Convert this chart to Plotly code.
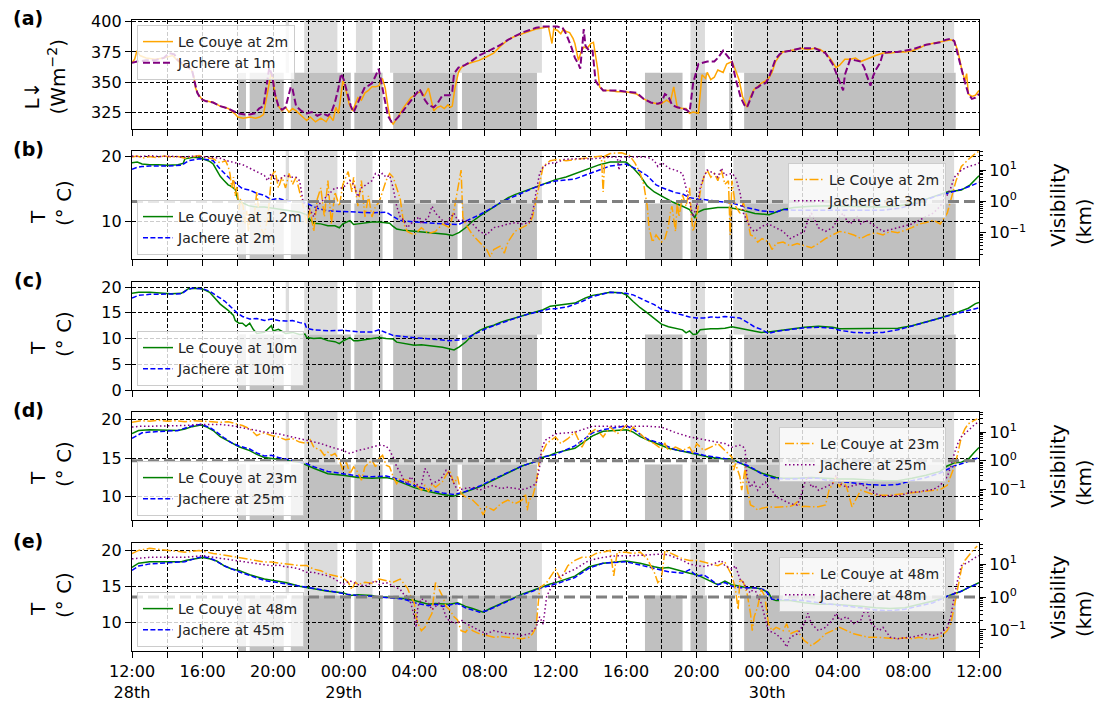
import plotly.graph_objects as go

# ---------------------------------------------------------------------------
# Time axis: hours since 12:00 on the 28th (48 h window)
# ---------------------------------------------------------------------------
LABEL_HOURS = list(range(0, 49, 4))
LABEL_TEXT = ["12:00<br>28th", "16:00", "20:00", "00:00<br>29th", "04:00", "08:00",
              "12:00", "16:00", "20:00", "00:00<br>30th", "04:00", "08:00", "12:00"]
MINOR_HOURS = list(range(2, 48, 4))

# fog flags (hour intervals): upper band and lower band
FOG_UPPER = [(8.71, 8.9), (9.76, 11.64), (12.69, 13.63), (14.62, 23.23),
             (31.65, 32.47), (34.08, 46.59)]
FOG_LOWER = [(6.02, 6.46), (6.67, 8.6), (9.0, 12.4), (12.6, 14.2), (14.8, 18.45),
             (18.7, 22.95), (29.07, 31.2), (31.65, 32.58), (33.84, 34.04),
             (34.69, 46.68)]

FOG_VIS_KM = 1.0

# ---------------------------------------------------------------------------
# (a) downward longwave radiation, W m-2
# ---------------------------------------------------------------------------
LW_COUYE_2M = [(0.0,366),(0.15,369),(0.28,376),(0.45,372),(0.8,370),(1.3,369),(1.8,370),(2.3,372),(2.5,369),(2.8,365),(3.1,362),(3.35,361),(3.5,355),(3.6,345),(3.75,340),(4.0,335),(4.3,334),(4.6,333),(5.0,330),(5.45,328),(5.8,324),(6.0,321),(6.3,320),(6.7,321),(7.0,320),(7.24,321),(7.45,323),(7.6,335),(7.75,350),(7.89,358),(8.0,352),(8.1,340),(8.3,330),(8.5,326),(8.7,329),(8.9,325),(9.1,328),(9.3,326),(9.6,322),(9.9,318),(10.1,321),(10.4,317),(10.7,320),(11.0,317),(11.2,322),(11.4,318),(11.55,329),(11.7,324),(11.85,340),(11.95,351),(12.1,345),(12.3,332),(12.5,326),(12.65,331),(12.8,337),(13.0,335),(13.2,341),(13.4,343),(13.6,346),(13.8,346),(14.0,347),(14.19,353),(14.35,345),(14.5,330),(14.65,318),(14.8,315),(15.0,319),(15.2,324),(15.4,329),(15.6,333),(15.8,337),(16.0,339),(16.2,341),(16.4,342),(16.55,338),(16.8,345),(16.95,336),(17.1,326),(17.3,329),(17.5,330),(17.7,328),(17.9,331),(18.05,329),(18.15,330),(18.3,345),(18.5,358),(18.66,362),(18.86,364),(19.2,366),(19.67,368),(20.1,371),(20.5,374),(20.9,380),(21.3,385),(21.7,388),(22.1,390),(22.5,392),(22.9,394),(23.3,395),(23.6,396),(23.8,382),(23.9,394),(24.1,393),(24.3,390),(24.45,394),(24.6,392),(24.8,391),(25.0,386),(25.1,382),(25.3,368),(25.45,375),(25.6,379),(25.8,378),(26.0,382),(26.15,383),(26.3,370),(26.4,360),(26.5,346),(26.7,343),(27.1,343),(27.5,342),(28.0,342),(28.6,340),(29.0,336),(29.4,333),(29.8,332),(30.0,332),(30.3,335),(30.5,333),(30.7,346),(30.9,329),(31.2,328),(31.4,328),(31.6,324),(31.8,325),(32.1,324),(32.2,340),(32.3,356),(32.5,353),(32.6,358),(32.8,352),(33.0,354),(33.2,360),(33.5,358),(33.7,365),(34.0,367),(34.2,360),(34.4,352),(34.6,338),(34.85,329),(35.05,338),(35.26,344),(35.45,346),(35.66,349),(35.9,351),(36.07,353),(36.27,358),(36.47,367),(36.7,372),(36.88,375),(37.29,376),(37.9,378),(38.3,377),(38.7,378),(39.0,377),(39.3,374),(39.6,369),(39.9,362),(40.1,364),(40.4,369),(40.7,369),(41.0,370),(41.3,367),(41.6,369),(41.9,371),(42.15,372),(42.56,374),(43.0,374),(43.37,375),(43.8,375),(44.2,376),(44.6,378),(45.0,381),(45.4,382),(45.8,383),(46.1,384),(46.4,385),(46.6,384),(46.7,380),(46.8,376),(47.0,362),(47.2,351),(47.3,357),(47.4,340),(47.6,338),(47.8,339),(48.0,343)]
LW_JACHERE_1M = [(0.0,366),(0.3,367),(0.8,368),(1.3,368),(1.8,370),(2.1,374),(2.4,373),(2.6,368),(2.9,365),(3.2,362),(3.4,360),(3.55,350),(3.7,341),(3.9,336),(4.2,334),(4.6,333),(5.0,330),(5.45,328),(5.8,325),(6.0,324),(6.4,323),(6.67,323),(6.97,324),(7.2,328),(7.45,330),(7.6,345),(7.78,362),(7.95,355),(8.1,340),(8.3,330),(8.5,327),(8.7,329),(8.85,337),(9.0,346),(9.1,344),(9.3,330),(9.6,326),(9.9,324),(10.2,325),(10.5,322),(10.8,324),(11.1,322),(11.3,325),(11.5,333),(11.7,345),(11.85,357),(12.0,352),(12.2,340),(12.4,330),(12.56,325),(12.8,333),(13.0,340),(13.2,346),(13.4,347),(13.6,349),(13.8,355),(13.98,361),(14.1,352),(14.3,338),(14.5,322),(14.7,317),(14.9,318),(15.1,321),(15.4,327),(15.7,333),(16.0,339),(16.3,344),(16.45,340),(16.6,335),(16.8,331),(17.1,329),(17.3,332),(17.6,339),(17.8,339),(18.0,339),(18.15,342),(18.25,357),(18.5,362),(18.86,364),(19.3,368),(19.67,372),(20.1,375),(20.5,378),(20.9,381),(21.3,385),(21.7,388),(22.1,391),(22.5,393),(22.9,395),(23.3,396),(23.7,396),(24.1,396),(24.4,395),(24.6,390),(24.9,379),(25.1,370),(25.3,365),(25.4,361),(25.55,385),(25.6,394),(25.7,380),(25.9,376),(26.1,376),(26.2,362),(26.27,351),(26.4,348),(26.5,346),(26.7,343),(27.1,343),(27.5,343),(28.0,342),(28.6,341),(29.0,336),(29.4,333),(29.8,332),(30.0,333),(30.2,340),(30.4,338),(30.6,331),(30.9,329),(31.2,328),(31.4,327),(31.6,325),(31.8,349),(32.1,365),(32.3,366),(32.6,367),(33.0,367),(33.2,370),(33.5,376),(33.7,372),(34.0,367),(34.2,353),(34.5,337),(34.7,331),(34.85,329),(35.05,336),(35.26,344),(35.5,346),(35.66,348),(35.9,349),(36.07,353),(36.27,361),(36.47,369),(36.7,373),(36.88,375),(37.29,376),(37.9,378),(38.3,378),(38.7,378),(39.0,376),(39.3,374),(39.7,365),(39.95,356),(40.1,350),(40.3,343),(40.4,356),(40.7,369),(41.0,368),(41.3,367),(41.5,362),(41.6,357),(41.85,347),(42.0,355),(42.15,360),(42.4,366),(42.56,374),(43.0,375),(43.37,375),(43.8,376),(44.2,377),(44.6,379),(45.0,381),(45.4,382),(45.8,383),(46.1,385),(46.4,386),(46.6,384),(46.7,378),(46.8,373),(47.0,360),(47.2,350),(47.4,340),(47.6,336),(47.8,337),(48.0,340)]

# ---------------------------------------------------------------------------
# (b) near-surface temperature (deg C) and visibility (km)
# ---------------------------------------------------------------------------
T_COUYE_1M2 = [(0.0,19.0),(0.3,19.1),(0.57,18.8),(1.0,18.7),(1.5,18.7),(2.0,18.6),(2.6,18.7),(2.9,18.9),(3.0,19.6),(3.4,19.8),(3.8,19.8),(4.0,19.6),(4.4,19.2),(4.6,18.8),(4.8,17.8),(5.0,16.9),(5.2,16.3),(5.45,15.6),(5.6,15.4),(5.85,14.9),(6.0,13.3),(6.1,13.0),(6.3,12.8),(6.6,12.4),(7.0,12.2),(7.5,12.2),(8.0,12.0),(8.5,11.8),(9.0,11.6),(9.5,11.4),(9.9,11.0),(10.1,10.2),(10.3,9.7),(10.7,9.6),(11.1,9.3),(11.5,9.3),(11.75,9.0),(11.95,9.6),(12.35,10.1),(12.56,9.5),(12.8,9.6),(13.2,9.8),(13.6,9.9),(14.0,9.9),(14.4,9.8),(14.6,9.7),(14.8,9.2),(15.0,8.8),(15.4,8.6),(15.8,8.5),(16.4,8.4),(16.8,8.3),(17.2,8.2),(17.8,8.0),(18.15,7.8),(18.55,8.3),(18.9,9.0),(19.3,10.0),(19.7,10.8),(20.1,11.5),(20.5,12.2),(20.9,13.0),(21.3,13.6),(21.7,14.1),(22.1,14.5),(22.5,14.9),(22.9,15.4),(23.3,15.8),(23.7,16.1),(24.0,16.4),(24.6,16.8),(25.1,17.3),(25.6,17.8),(26.1,18.3),(26.5,18.7),(27.1,19.1),(27.5,19.1),(28.0,19.1),(28.4,18.2),(28.8,17.0),(29.2,15.4),(29.6,14.5),(30.2,13.6),(30.6,13.0),(31.2,12.3),(31.6,11.8),(31.9,10.5),(32.0,11.3),(32.4,11.8),(33.2,12.1),(33.8,12.1),(34.45,11.8),(35.3,11.2),(36.1,11.0),(36.9,11.8),(37.5,12.1),(38.5,12.3),(39.5,12.4),(40.5,12.3),(41.5,12.2),(42.5,12.2),(43.5,12.4),(44.3,12.8),(45.0,13.4),(45.6,14.0),(46.2,14.5),(47.0,14.8),(47.5,15.6),(48.0,17.0)]
T_JACHERE_2M = [(0.0,18.0),(0.3,18.3),(0.57,18.4),(1.0,18.5),(2.0,18.5),(2.8,18.6),(3.2,19.3),(3.8,19.6),(4.2,19.5),(4.6,19.3),(5.0,18.0),(5.45,16.8),(5.85,15.9),(6.26,15.0),(6.67,14.8),(7.07,14.3),(7.5,14.0),(7.9,13.3),(8.3,13.5),(8.7,13.2),(9.3,13.0),(9.7,13.0),(10.1,12.5),(10.5,12.0),(11.1,11.6),(11.95,11.5),(12.8,11.5),(13.6,11.3),(14.4,11.4),(14.8,10.8),(15.2,10.1),(16.0,9.9),(16.8,9.7),(17.6,9.6),(18.5,9.5),(18.9,10.0),(19.7,11.0),(20.5,12.2),(20.9,12.9),(21.3,13.4),(21.7,13.9),(22.1,14.4),(22.5,14.8),(23.1,15.5),(23.7,15.9),(24.0,16.2),(25.1,16.5),(26.1,17.5),(27.1,18.5),(28.0,18.8),(28.6,18.0),(29.2,17.0),(29.7,15.6),(30.0,15.2),(30.4,14.8),(30.8,14.4),(31.2,14.2),(31.6,13.6),(32.2,13.4),(33.2,13.1),(34.0,12.8),(34.85,12.1),(35.66,11.6),(36.5,11.4),(36.9,11.8),(37.5,11.7),(38.5,11.7),(39.5,11.6),(40.5,11.6),(41.5,11.6),(42.5,11.7),(43.5,12.0),(44.3,12.6),(45.0,13.3),(45.6,13.9),(46.2,14.3),(47.0,14.9),(47.5,15.4),(48.0,16.0)]
VIS_COUYE_2M = [(0,26),(0.3,28),(0.6,24),(1.0,27),(1.4,25),(1.8,28),(2.2,26),(2.6,27),(3.0,24),(3.4,27),(3.8,29),(4.2,25),(4.6,23),(5.0,17),(5.3,20),(5.45,13),(5.55,7.8),(5.65,2.7),(5.75,6),(5.85,1.5),(5.95,3),(6.06,0.54),(6.15,1.2),(6.3,0.7),(6.4,0.2),(6.5,0.5),(6.6,0.11),(6.7,0.3),(6.9,0.25),(7.07,2.0),(7.28,0.15),(7.5,0.085),(7.7,0.32),(7.9,5.9),(8.1,10),(8.3,2.7),(8.5,5.9),(8.7,2.7),(8.9,7.8),(9.1,3.5),(9.3,5.9),(9.5,2.0),(9.7,0.7),(9.9,0.19),(10.1,0.54),(10.3,0.11),(10.5,1.2),(10.7,2.7),(10.9,0.32),(11.1,4.6),(11.3,0.19),(11.5,2.0),(11.75,0.7),(11.95,3.5),(12.25,9),(12.46,2.0),(12.56,5.9),(12.8,0.7),(13.0,4.6),(13.2,0.32),(13.4,1.5),(13.6,0.32),(13.8,0.7),(14.0,0.93),(14.4,4.6),(14.6,7.8),(14.8,5.9),(15.0,2.7),(15.2,1.2),(15.4,0.19),(15.6,0.11),(16.0,0.085),(16.4,0.145),(16.8,0.095),(17.2,0.11),(17.6,0.19),(18.0,0.145),(18.25,0.54),(18.45,2.7),(18.65,10),(18.75,0.32),(18.9,0.19),(19.3,0.085),(19.7,0.05),(20.1,0.029),(20.3,0.017),(20.5,0.029),(20.9,0.038),(21.1,0.022),(21.3,0.05),(21.7,0.11),(22.1,0.145),(22.5,0.19),(22.7,0.32),(22.9,1.2),(23.1,4.6),(23.3,13),(23.7,20),(24.1,22),(24.6,20),(25.1,22),(25.6,24),(26.1,26),(26.6,28),(26.7,2.0),(26.8,28),(27.1,34),(27.75,36),(28.2,29),(28.5,17),(28.8,7.8),(29.0,3.5),(29.2,0.7),(29.3,0.145),(29.5,0.05),(29.7,0.085),(30.0,0.05),(30.2,0.065),(30.4,0.16),(30.5,0.42),(30.6,0.7),(30.7,0.25),(30.8,0.11),(30.9,0.93),(31.0,0.32),(31.2,1.6),(31.4,0.7),(31.6,2.7),(31.7,0.32),(31.8,0.11),(32.0,0.32),(32.2,2.0),(32.4,5.9),(32.6,10),(32.8,5.9),(33.0,7.8),(33.2,4.6),(33.4,10),(33.6,3.5),(33.8,4.6),(33.9,0.085),(34.0,4.6),(34.2,0.7),(34.45,0.42),(34.65,0.93),(34.85,0.32),(35.05,0.085),(35.26,0.075),(35.46,0.05),(35.7,0.065),(36.07,0.05),(36.27,0.029),(36.5,0.045),(36.9,0.05),(37.3,0.038),(37.7,0.045),(38.1,0.038),(38.5,0.033),(38.9,0.045),(39.3,0.065),(39.7,0.085),(40.1,0.11),(40.5,0.1),(40.9,0.085),(41.3,0.065),(41.7,0.085),(42.15,0.1),(42.56,0.085),(42.97,0.11),(43.4,0.1),(43.8,0.12),(44.2,0.145),(44.6,0.19),(45.0,0.21),(45.4,0.25),(45.8,0.19),(46.2,0.42),(46.5,1.6),(46.7,4.6),(47.0,13),(47.4,22),(47.8,34),(48.0,40)]
VIS_JACHERE_3M = [(0,28),(0.5,27),(1.0,29),(1.5,27),(2.0,28),(2.5,27),(3.0,26),(3.5,28),(4.0,27),(4.5,26),(5.0,24),(5.45,19.5),(5.8,17),(6.26,15),(6.67,11.5),(7.07,9),(7.5,6.8),(7.68,4.6),(7.89,7.8),(8.1,5.2),(8.3,4.6),(8.5,5.9),(8.7,6.8),(9.1,5.9),(9.3,5.9),(9.5,4.6),(9.7,0.93),(9.9,0.7),(10.1,0.54),(10.3,0.32),(10.5,0.7),(10.7,0.93),(11.1,1.6),(11.5,2.7),(11.95,2.7),(12.35,4.6),(12.56,3.5),(12.8,1.4),(13.0,2.7),(13.4,4.0),(13.6,4.6),(13.8,7.8),(14.0,6.8),(14.2,7.8),(14.4,5.9),(14.6,6.8),(14.8,2.7),(15.0,0.7),(15.2,0.32),(15.4,0.25),(15.6,0.145),(15.8,0.19),(16.0,0.25),(16.3,0.32),(16.4,0.19),(16.6,0.25),(16.8,0.32),(17.0,0.7),(17.2,0.42),(17.4,0.32),(17.6,0.25),(17.8,0.19),(18.0,0.28),(18.25,0.42),(18.45,0.25),(18.9,0.25),(19.3,0.19),(19.7,0.11),(20.1,0.085),(20.3,0.11),(20.5,0.145),(20.9,0.16),(21.3,0.19),(21.7,0.21),(22.1,0.19),(22.5,0.21),(22.7,0.42),(22.9,2.0),(23.1,7.8),(23.3,13),(23.7,17),(24.0,17),(24.5,22),(25.1,23),(26.1,23),(27.1,26),(27.5,26),(27.6,10),(27.7,26),(28.0,26),(28.8,26),(29.2,26),(29.6,20),(29.8,13),(30.0,17),(30.2,15),(30.4,11.5),(30.8,10),(31.2,7.8),(31.4,2.7),(31.6,1.1),(31.7,0.54),(31.8,0.32),(32.0,0.7),(32.2,2.7),(32.4,5.9),(32.6,10),(33.0,7.8),(33.2,5.9),(33.4,11.5),(33.6,6.8),(34.0,7.8),(34.2,5.9),(34.45,2.0),(34.65,0.42),(34.85,0.25),(35.05,0.145),(35.26,0.11),(35.46,0.125),(35.7,0.16),(36.07,0.19),(36.47,0.145),(36.9,0.11),(37.3,0.065),(37.7,0.085),(38.1,0.11),(38.3,0.25),(38.5,0.42),(38.7,0.25),(38.9,0.145),(39.3,0.11),(39.7,0.145),(40.1,0.32),(40.3,0.42),(40.5,0.25),(40.7,0.19),(41.1,0.32),(41.3,0.19),(41.6,0.25),(41.9,0.19),(42.25,0.145),(42.56,0.11),(42.97,0.125),(43.4,0.145),(43.8,0.16),(44.2,0.19),(44.6,0.25),(45.0,0.32),(45.4,0.42),(45.8,0.7),(46.2,1.6),(46.4,2.7),(46.6,5.9),(47.0,10),(47.4,13),(47.8,15),(48.0,17)]

# ---------------------------------------------------------------------------
# (c) temperature at 10 m
# ---------------------------------------------------------------------------
T_COUYE_10M = [(0.0,18.8),(0.37,19.0),(1.0,19.0),(1.6,18.8),(2.2,18.7),(2.8,18.8),(3.0,19.3),(3.2,19.7),(3.8,19.8),(4.1,19.5),(4.4,19.0),(4.6,18.2),(5.0,16.7),(5.45,15.5),(5.75,14.5),(5.85,13.5),(6.06,13.0),(6.26,13.0),(6.46,12.4),(6.67,13.0),(6.87,11.8),(7.07,11.0),(7.5,11.2),(7.9,12.5),(8.0,11.5),(8.3,11.8),(8.7,11.0),(9.1,11.2),(9.5,10.8),(9.8,10.9),(9.9,10.2),(10.3,10.0),(10.7,10.1),(11.1,9.6),(11.5,9.4),(11.75,9.0),(11.95,9.5),(12.35,10.2),(12.56,9.6),(12.8,9.6),(13.2,9.8),(13.6,10.0),(14.0,10.2),(14.4,10.0),(14.8,9.9),(15.0,9.3),(15.6,8.9),(16.0,8.7),(16.4,8.8),(16.8,8.6),(17.6,8.3),(18.25,7.8),(18.55,8.4),(18.9,9.3),(19.3,10.7),(19.7,11.6),(20.1,12.2),(20.5,12.6),(20.9,13.2),(21.3,13.6),(21.7,14.0),(22.1,14.5),(22.5,14.9),(22.9,15.2),(23.3,15.6),(23.7,16.3),(24.3,16.5),(25.1,16.9),(25.7,17.9),(26.1,18.4),(26.5,18.6),(27.1,19.0),(27.75,18.9),(28.05,18.4),(28.4,17.2),(28.8,16.0),(29.2,15.0),(29.6,13.9),(30.0,12.8),(30.4,12.3),(30.8,12.0),(31.2,11.7),(31.4,11.1),(31.6,11.5),(31.8,10.8),(32.0,10.9),(32.2,11.7),(32.4,11.8),(32.8,11.9),(33.2,11.9),(33.6,12.0),(34.0,12.3),(34.45,12.0),(34.85,11.6),(35.26,11.4),(35.66,11.2),(36.07,11.3),(36.5,11.5),(37.3,11.9),(38.1,12.2),(38.9,12.4),(39.7,12.2),(40.1,11.9),(40.9,11.9),(41.7,11.9),(42.56,11.9),(43.4,12.0),(44.2,12.5),(45.0,13.2),(45.8,14.0),(46.6,14.9),(47.4,15.9),(47.8,16.8),(48.0,17.0)]
T_JACHERE_10M = [(0.0,17.9),(0.37,18.4),(1.0,18.6),(2.0,18.6),(2.8,18.7),(3.1,19.4),(3.4,19.8),(4.0,19.7),(4.4,19.2),(4.8,18.3),(5.25,17.3),(5.65,16.0),(5.95,15.0),(6.26,14.3),(6.67,13.8),(7.07,13.9),(7.5,13.5),(7.9,13.8),(8.3,13.5),(8.7,13.4),(9.1,13.5),(9.5,13.1),(9.8,12.9),(9.9,12.0),(10.3,11.7),(11.1,11.5),(11.95,11.6),(12.8,11.3),(13.6,11.3),(14.0,11.7),(14.4,11.2),(14.8,10.6),(15.6,10.3),(16.4,10.1),(17.2,9.8),(18.0,9.6),(18.5,9.7),(18.9,10.0),(19.5,11.0),(20.1,12.0),(20.5,12.5),(20.9,13.0),(21.3,13.5),(21.7,13.9),(22.1,14.4),(22.5,14.8),(22.9,15.1),(23.3,15.5),(23.7,15.8),(24.0,15.8),(24.7,16.2),(25.5,17.2),(26.1,18.2),(27.1,19.0),(28.0,18.8),(28.4,18.5),(28.8,17.8),(29.2,17.2),(29.6,16.6),(30.0,15.7),(30.4,15.3),(30.8,14.9),(31.2,14.6),(31.6,14.2),(32.0,14.0),(32.4,14.0),(32.8,14.2),(33.2,14.1),(33.6,14.3),(34.0,14.1),(34.45,14.0),(34.85,13.2),(35.26,12.3),(35.66,11.8),(36.07,11.0),(36.5,11.4),(37.3,11.8),(38.1,12.1),(38.9,12.2),(39.7,12.0),(40.1,11.6),(40.9,11.2),(41.7,11.1),(42.56,11.2),(43.4,11.7),(44.2,12.4),(45.0,13.2),(45.8,14.0),(46.6,14.7),(47.4,15.5),(48.0,16.0)]

# ---------------------------------------------------------------------------
# (d) temperature at 23/25 m and visibility
# ---------------------------------------------------------------------------
T_COUYE_23M = [(0.0,18.2),(0.37,18.6),(1.0,18.7),(2.0,18.6),(2.6,18.6),(3.0,18.8),(3.4,19.1),(3.9,19.3),(4.2,19.1),(4.6,18.6),(5.0,17.8),(5.65,17.0),(6.06,16.5),(6.67,16.0),(7.07,15.5),(7.5,15.1),(7.9,15.0),(8.3,14.9),(8.7,14.8),(9.5,14.5),(10.3,13.7),(11.1,13.0),(11.95,12.8),(12.8,12.5),(13.6,12.4),(14.4,12.5),(14.8,12.3),(15.4,11.8),(16.0,11.2),(16.8,10.7),(17.6,10.3),(18.25,10.1),(18.9,10.6),(19.7,11.3),(20.5,12.2),(21.3,13.1),(22.1,14.0),(22.9,14.6),(23.1,15.0),(23.7,15.4),(24.0,15.7),(25.1,16.3),(26.1,17.9),(26.7,18.5),(27.5,18.6),(28.05,18.7),(28.4,18.4),(28.8,17.8),(29.2,17.4),(29.6,17.0),(30.0,16.7),(30.4,16.3),(31.2,15.9),(32.0,15.5),(32.8,15.1),(33.6,14.9),(34.0,14.9),(34.45,14.4),(34.85,14.0),(35.26,13.5),(35.66,13.1),(36.07,12.8),(36.5,12.5),(36.9,12.4),(37.7,12.4),(38.5,12.5),(39.3,12.4),(40.1,12.3),(40.9,12.3),(41.7,12.2),(42.56,12.1),(43.4,12.1),(44.2,12.4),(45.0,12.8),(45.8,13.3),(46.2,14.0),(46.6,14.4),(47.0,14.5),(47.4,14.9),(47.7,15.7),(48.0,16.4)]
T_JACHERE_25M = [(0.0,17.6),(0.57,18.3),(1.0,18.4),(2.0,18.5),(2.6,18.6),(3.4,19.2),(3.9,19.4),(4.4,19.0),(4.8,18.4),(5.25,17.6),(5.65,17.0),(6.06,16.6),(6.67,16.2),(7.07,15.7),(7.5,15.3),(7.9,15.4),(8.3,15.1),(9.1,14.7),(9.9,14.3),(10.3,13.9),(11.1,13.3),(11.95,13.0),(12.8,12.7),(13.6,12.6),(14.4,12.7),(14.8,12.5),(15.6,11.7),(16.4,11.2),(16.8,10.9),(17.6,10.5),(18.25,10.3),(18.9,10.7),(19.7,11.4),(20.5,12.3),(21.3,13.2),(22.1,14.0),(22.9,14.6),(23.1,15.1),(24.0,15.5),(25.1,16.6),(26.1,18.3),(26.7,18.7),(28.0,19.2),(28.4,18.8),(28.8,18.1),(29.2,17.5),(30.0,16.9),(30.8,16.1),(31.6,15.8),(32.4,15.4),(33.2,15.1),(34.0,14.8),(34.45,14.4),(34.85,14.1),(35.26,13.6),(35.66,13.0),(36.07,12.6),(36.5,12.4),(37.3,12.3),(38.1,12.4),(38.9,12.4),(39.3,12.2),(40.1,12.0),(40.9,11.8),(41.7,11.6),(42.56,11.5),(43.4,11.6),(44.2,12.1),(45.0,12.5),(45.8,13.1),(46.6,14.0),(47.4,14.6),(48.0,15.1)]
VIS_COUYE_23M = [(0,22),(0.5,25),(1.0,24),(1.5,26),(2.0,24),(2.5,25),(3.0,23),(3.5,25),(4.0,24),(4.5,23),(5.0,22),(5.45,23),(5.85,20),(6.26,17),(6.67,13),(6.87,10),(7.07,7.6),(7.28,8.7),(7.5,9.3),(7.9,7.6),(8.3,6.8),(8.7,5.4),(9.1,5.9),(9.5,4.5),(9.9,4.0),(10.1,5.4),(10.3,3.0),(10.7,2.3),(10.9,1.55),(11.1,2.0),(11.3,1.55),(11.5,1.8),(11.75,1.05),(11.95,0.47),(12.05,0.62),(12.15,0.9),(12.35,0.35),(12.56,0.62),(12.8,0.4),(13.0,0.21),(13.2,0.62),(13.4,0.8),(13.6,1.05),(13.8,0.62),(14.0,1.2),(14.2,1.55),(14.4,0.7),(14.6,0.62),(14.8,0.28),(15.0,0.16),(15.2,0.24),(15.6,0.21),(16.0,0.16),(16.4,0.095),(16.6,0.14),(16.8,0.083),(17.0,0.16),(17.2,0.12),(17.6,0.19),(17.8,0.32),(18.0,0.47),(18.25,0.16),(18.45,0.28),(18.65,0.072),(18.9,0.056),(19.3,0.043),(19.7,0.025),(19.9,0.013),(20.1,0.025),(20.5,0.019),(20.9,0.032),(21.3,0.043),(21.7,0.032),(22.1,0.043),(22.3,0.072),(22.4,0.019),(22.5,0.043),(22.7,0.056),(22.9,0.16),(23.1,1.2),(23.5,4.0),(24.0,6.8),(24.3,4.0),(24.7,5.9),(25.1,10),(25.5,3.0),(25.9,8.7),(26.3,13),(26.7,6.8),(27.1,15),(27.5,8.7),(28.0,17),(28.2,10),(28.4,15),(28.8,8.7),(29.2,5.1),(29.6,4.0),(30.0,2.6),(30.2,4.0),(30.4,2.3),(30.8,3.0),(31.2,2.3),(31.6,3.0),(31.8,1.8),(32.0,4.0),(32.4,2.3),(32.8,3.0),(33.2,4.0),(33.6,2.3),(34.0,1.35),(34.1,0.47),(34.2,0.8),(34.45,0.28),(34.55,0.095),(34.65,0.21),(34.75,0.62),(34.85,0.12),(35.05,0.029),(35.26,0.025),(35.46,0.019),(35.66,0.022),(36.07,0.025),(36.5,0.024),(36.9,0.025),(37.3,0.026),(37.5,0.029),(37.7,0.037),(37.9,0.025),(38.1,0.026),(38.5,0.025),(38.9,0.025),(39.3,0.029),(39.5,0.095),(39.7,0.16),(39.9,0.28),(40.1,0.12),(40.3,0.21),(40.5,0.12),(40.7,0.043),(40.8,0.025),(41.3,0.095),(42.15,0.063),(42.97,0.063),(43.8,0.072),(44.6,0.083),(45.4,0.095),(45.8,0.1),(46.2,0.14),(46.4,0.28),(46.6,0.62),(46.8,1.8),(47.0,6.8),(47.2,13),(47.4,19.5),(47.7,25),(47.9,29)]
VIS_JACHERE_25M = [(0,15),(0.5,16),(1.0,16),(2.0,16),(3.0,17),(3.8,18.5),(5.0,18.5),(5.85,16),(6.67,12.5),(7.5,10),(8.3,8.7),(9.1,6.8),(9.9,5.1),(10.7,4.0),(11.3,3.0),(11.95,2.3),(12.35,1.8),(12.8,2.3),(13.2,2.6),(13.6,3.0),(14.0,3.5),(14.4,3.3),(14.6,2.3),(14.8,1.35),(15.0,0.62),(15.2,0.4),(15.4,0.21),(15.6,0.16),(15.8,0.28),(16.0,0.19),(16.3,0.12),(16.4,0.14),(16.6,0.54),(16.8,0.35),(17.0,0.16),(17.4,0.21),(17.6,0.28),(17.8,0.47),(18.0,0.35),(18.25,0.16),(18.45,0.095),(18.9,0.11),(19.3,0.12),(19.7,0.095),(20.1,0.12),(20.5,0.14),(20.9,0.107),(21.3,0.12),(21.7,0.107),(22.1,0.1),(22.5,0.115),(22.9,0.16),(23.1,0.62),(23.2,2.5),(23.4,5.1),(23.7,6.8),(24.0,8.7),(25.1,10),(26.1,16),(27.1,16),(28.2,16),(29.2,16),(30.0,15),(30.4,12),(30.8,9.6),(31.6,6.8),(32.4,5.4),(32.8,5.1),(33.2,4.5),(33.6,4.0),(34.0,3.0),(34.45,3.5),(34.65,3.0),(34.75,2.3),(34.85,0.28),(35.05,0.12),(35.26,0.18),(35.46,0.095),(35.66,0.14),(35.9,0.18),(36.07,0.12),(36.27,0.095),(36.5,0.056),(36.9,0.043),(37.3,0.032),(37.7,0.029),(37.9,0.056),(38.1,0.16),(38.3,0.28),(38.5,0.12),(38.7,0.14),(38.9,0.095),(39.3,0.12),(39.7,0.16),(39.9,0.32),(40.1,0.16),(40.5,0.12),(40.9,0.14),(41.3,0.16),(41.7,0.107),(42.15,0.072),(42.56,0.056),(42.97,0.063),(43.4,0.059),(43.8,0.072),(44.2,0.083),(44.6,0.083),(45.0,0.095),(45.4,0.1),(45.8,0.14),(46.2,0.28),(46.4,0.62),(46.6,1.8),(46.8,4.0),(47.0,6.8),(47.4,11.5),(47.8,19.5),(48.0,22)]

# ---------------------------------------------------------------------------
# (e) temperature at 45/48 m and visibility
# ---------------------------------------------------------------------------
T_COUYE_48M = [(0.0,17.6),(0.37,18.2),(1.0,18.4),(2.0,18.4),(2.8,18.4),(3.1,18.6),(3.5,18.8),(4.0,19.0),(4.4,18.8),(4.8,18.5),(5.25,17.8),(5.65,17.4),(6.06,17.2),(6.67,16.6),(7.5,16.0),(8.3,15.7),(8.7,15.5),(9.5,15.0),(10.3,14.7),(11.1,14.3),(11.95,14.1),(12.35,13.7),(12.8,13.8),(13.2,13.8),(13.6,13.7),(14.0,13.4),(14.4,13.5),(14.8,13.4),(15.4,13.3),(16.0,13.0),(16.4,12.8),(16.8,12.5),(17.2,12.6),(17.6,12.5),(18.0,12.5),(18.45,12.7),(18.9,12.2),(19.3,11.9),(19.7,11.5),(19.9,11.4),(20.3,11.9),(20.9,12.6),(21.5,13.2),(22.1,13.9),(22.7,14.4),(23.1,14.8),(23.7,15.3),(24.0,15.5),(25.1,16.4),(25.9,17.7),(26.7,18.2),(28.0,18.5),(28.8,18.2),(29.6,17.7),(30.0,17.5),(30.4,17.6),(30.8,17.3),(31.2,17.0),(31.6,16.8),(32.0,16.6),(32.4,16.1),(32.8,15.7),(33.2,15.2),(33.6,15.7),(34.0,15.2),(34.45,15.0),(34.85,14.8),(35.26,14.8),(35.66,14.6),(36.07,14.1),(36.27,13.2),(36.5,13.0),(37.3,13.0),(38.1,12.7),(38.9,12.5),(39.7,12.5),(40.5,12.4),(41.3,12.2),(42.15,12.0),(42.97,11.9),(43.8,12.0),(44.6,12.5),(45.4,12.95),(46.2,13.6),(47.0,14.3),(47.4,14.8),(48.0,15.5)]
T_JACHERE_45M = [(0.0,17.2),(0.37,17.8),(1.0,18.1),(2.0,18.3),(3.0,18.4),(3.8,19.0),(4.1,19.1),(4.6,18.7),(5.25,17.8),(6.06,17.0),(6.67,16.5),(7.5,15.8),(8.3,15.5),(9.1,15.2),(9.9,14.8),(10.7,14.5),(11.5,14.2),(12.15,13.9),(12.8,13.7),(13.6,13.6),(14.4,13.4),(14.8,13.3),(15.4,13.2),(16.0,12.7),(16.4,12.5),(16.8,12.3),(17.2,12.5),(17.6,12.2),(18.0,12.4),(18.45,12.6),(18.9,12.0),(19.3,11.7),(19.7,11.4),(20.1,11.6),(20.9,12.5),(21.5,13.1),(22.1,13.8),(22.7,14.3),(23.1,14.7),(24.0,15.3),(25.1,16.2),(25.9,17.5),(26.7,18.2),(28.0,18.4),(28.8,17.9),(29.6,17.5),(30.4,17.0),(31.2,16.8),(31.6,17.3),(32.0,16.4),(32.4,16.6),(32.8,15.9),(33.2,15.2),(33.6,15.5),(34.0,15.0),(34.45,14.8),(35.26,14.8),(35.86,14.5),(36.27,13.2),(37.3,13.1),(38.1,13.0),(38.9,12.7),(39.7,12.5),(40.5,12.3),(41.3,12.0),(42.15,11.7),(42.97,11.6),(43.8,11.8),(44.6,12.3),(45.4,12.7),(46.2,13.6),(47.0,14.3),(47.4,14.8),(48.0,15.4)]
VIS_COUYE_48M = [(0,21),(0.37,26),(1.0,30),(2.0,26),(3.0,23),(3.8,26),(4.6,21),(5.45,18),(6.26,15),(7.07,12.5),(7.5,11.5),(7.9,11.5),(8.7,10),(9.5,9),(9.9,9),(10.3,7),(10.7,6.3),(11.1,4.9),(11.5,4.4),(11.95,3.9),(12.25,2.8),(12.46,1.7),(12.66,2.8),(12.8,2.4),(13.2,2.8),(13.6,2.6),(14.0,3.5),(14.4,3.1),(14.8,2.8),(15.2,3.5),(15.6,1.9),(15.8,1.05),(16.0,0.65),(16.1,0.25),(16.2,0.155),(16.4,0.095),(16.6,0.12),(16.8,0.2),(17.0,0.32),(17.1,1.05),(17.2,2.75),(17.4,1.7),(17.6,1.05),(17.8,0.51),(18.0,0.41),(18.25,0.25),(18.45,0.2),(18.65,0.095),(18.9,0.085),(19.1,0.12),(19.3,0.095),(19.7,0.076),(20.1,0.068),(20.5,0.06),(20.9,0.063),(21.3,0.06),(21.7,0.058),(22.1,0.054),(22.5,0.06),(22.7,0.076),(22.9,0.12),(23.1,1.9),(23.5,2.75),(24.0,7),(24.3,3.5),(24.7,8.9),(25.1,12.9),(25.5,16),(25.9,16),(26.3,21),(26.7,23),(27.1,26),(27.3,4.4),(27.5,23),(28.0,23),(28.4,21),(28.8,23),(29.2,14.5),(29.4,8.9),(29.6,5.6),(29.8,2.75),(30.0,3.5),(30.2,26),(30.4,23),(30.8,18),(31.2,14.5),(31.6,12.9),(32.0,12.9),(32.4,11.5),(32.8,10),(33.2,8.9),(33.6,11.5),(34.0,4.4),(34.2,1.7),(34.35,0.41),(34.45,3.5),(34.65,2.75),(34.85,1.33),(35.05,0.32),(35.15,0.095),(35.26,0.25),(35.46,0.51),(35.66,1.7),(35.86,1.05),(36.07,0.155),(36.27,0.095),(36.5,0.12),(36.9,0.095),(37.1,0.155),(37.3,0.076),(37.7,0.095),(38.1,0.047),(38.5,0.033),(38.9,0.047),(39.3,0.076),(39.7,0.095),(40.1,0.12),(40.5,0.095),(40.9,0.076),(41.3,0.068),(41.7,0.06),(42.15,0.06),(42.56,0.058),(42.97,0.054),(43.4,0.054),(43.8,0.058),(44.2,0.054),(44.6,0.06),(45.0,0.054),(45.4,0.054),(45.8,0.06),(46.2,0.095),(46.4,0.155),(46.6,0.51),(46.8,2.15),(47.0,7),(47.2,12.9),(47.4,18),(47.7,28),(47.9,35)]
VIS_JACHERE_48M = [(0,14.5),(1.0,16),(2.0,16),(3.0,16),(4.0,18),(5.0,15),(5.85,12.9),(6.67,11.5),(7.5,10),(7.9,8.9),(8.3,9.3),(8.7,8.3),(9.1,7.9),(9.5,7),(9.9,5.6),(10.3,5.6),(10.7,4.9),(11.1,4.4),(11.5,3.5),(11.95,2.4),(12.35,3.1),(12.8,2.4),(13.2,2.15),(13.6,2.75),(13.8,3.1),(14.0,2.4),(14.4,2.75),(14.8,2.15),(15.2,1.7),(15.4,1.2),(15.6,1.05),(15.8,0.65),(16.0,0.25),(16.1,0.12),(16.2,0.51),(16.4,0.89),(16.6,0.79),(16.8,0.65),(17.0,0.41),(17.4,0.65),(17.6,0.51),(17.8,0.25),(18.0,0.18),(18.45,0.16),(18.65,0.2),(18.9,0.16),(19.3,0.12),(19.7,0.095),(20.1,0.076),(20.5,0.095),(20.9,0.085),(21.3,0.076),(21.7,0.076),(22.1,0.068),(22.5,0.076),(22.9,0.12),(23.1,0.25),(23.3,0.15),(23.5,1.05),(24.0,3.5),(24.7,5.6),(25.1,7),(25.9,12.9),(26.7,16),(27.5,18),(28.4,18),(29.2,19),(30.0,20),(30.4,19),(30.8,16),(31.2,12.9),(31.6,10),(32.0,8.9),(32.4,8.5),(32.8,9.3),(33.2,11.5),(33.4,12.9),(33.6,8.9),(34.0,7),(34.2,8.9),(34.45,3.5),(34.65,2.75),(34.85,1.7),(35.05,1.33),(35.26,1.9),(35.46,1.05),(35.66,0.65),(35.86,0.25),(36.07,0.095),(36.5,0.076),(36.9,0.047),(37.1,0.03),(37.3,0.06),(37.7,0.076),(38.1,0.155),(38.3,0.32),(38.5,0.155),(38.9,0.095),(39.3,0.12),(39.7,0.2),(39.9,0.32),(40.1,0.2),(40.5,0.25),(40.9,0.155),(41.3,0.2),(41.6,0.51),(41.9,0.155),(42.35,0.095),(42.56,0.12),(42.97,0.06),(43.4,0.054),(43.8,0.058),(44.2,0.06),(44.6,0.068),(45.0,0.076),(45.4,0.068),(45.8,0.076),(46.2,0.12),(46.4,0.25),(46.6,1.05),(46.8,3.5),(47.0,8.9),(47.4,11.5),(47.8,16),(48.0,18)]

# ---------------------------------------------------------------------------
# Colours and layout geometry (pixels in a 1099 x 710 page)
# ---------------------------------------------------------------------------
ORANGE, PURPLE, GREEN, BLUE, GREY = "#FFA500", "#800080", "#008000", "#0000FF", "#808080"
FONT = "DejaVu Sans"
W, H = 1099, 710
X_LEFT, X_RIGHT = 132, 979
PANELS = [(20, 129), (151, 259), (282, 390), (412, 520), (543, 651)]   # (top, bottom)


def px_x(v):
    return v / W


def px_y(v):
    return 1 - v / H


def split(pairs):
    return [p[0] for p in pairs], [p[1] for p in pairs]


fig = go.Figure()

# axis ids: panel -> (xaxis, left yaxis, right yaxis or None)
AX = [("x", "y", None), ("x2", "y2", "y3"), ("x3", "y4", None),
      ("x4", "y5", "y6"), ("x5", "y7", "y8")]


def add_line(pairs, xa, ya, name, color, dash="solid", width=1.5, legend=None, show=True):
    t, v = split(pairs)
    fig.add_trace(go.Scatter(x=t, y=v, mode="lines", name=name, xaxis=xa, yaxis=ya,
                             line=dict(color=color, width=width, dash=dash),
                             showlegend=show, legend=legend))


DASH_T = "5px,2.4px"
DASHDOT = "9px,2.5px,1.5px,2.5px"
DOT = "1.5px,2.5px"

# (a)
add_line(LW_COUYE_2M, "x", "y", "Le Couye at 2m", ORANGE, legend="legend")
add_line(LW_JACHERE_1M, "x", "y", "Jachere at 1m", PURPLE, dash="7px,3px", width=2, legend="legend")

# (b)
add_line(T_COUYE_1M2, "x2", "y2", "Le Couye at 1.2m", GREEN, legend="legend2")
add_line(T_JACHERE_2M, "x2", "y2", "Jachere at 2m", BLUE, dash=DASH_T, legend="legend2")
add_line(VIS_COUYE_2M, "x2", "y3", "Le Couye at 2m", ORANGE, dash=DASHDOT, legend="legend3")
add_line(VIS_JACHERE_3M, "x2", "y3", "Jachere at 3m", PURPLE, dash=DOT, legend="legend3")

# (c)
add_line(T_COUYE_10M, "x3", "y4", "Le Couye at 10m", GREEN, legend="legend4")
add_line(T_JACHERE_10M, "x3", "y4", "Jachere at 10m", BLUE, dash=DASH_T, legend="legend4")

# (d)
add_line(T_COUYE_23M, "x4", "y5", "Le Couye at 23m", GREEN, legend="legend5")
add_line(T_JACHERE_25M, "x4", "y5", "Jachere at 25m", BLUE, dash=DASH_T, legend="legend5")
add_line(VIS_COUYE_23M, "x4", "y6", "Le Couye at 23m", ORANGE, dash=DASHDOT, legend="legend6")
add_line(VIS_JACHERE_25M, "x4", "y6", "Jachere at 25m", PURPLE, dash=DOT, legend="legend6")

# (e)
add_line(T_COUYE_48M, "x5", "y7", "Le Couye at 48m", GREEN, legend="legend7")
add_line(T_JACHERE_45M, "x5", "y7", "Jachere at 45m", BLUE, dash=DASH_T, legend="legend7")
add_line(VIS_COUYE_48M, "x5", "y8", "Le Couye at 48m", ORANGE, dash=DASHDOT, legend="legend8")
add_line(VIS_JACHERE_48M, "x5", "y8", "Jachere at 48m", PURPLE, dash=DOT, legend="legend8")

# fog visibility threshold on every visibility axis
for xa, ya in (("x2", "y3"), ("x4", "y6"), ("x5", "y8")):
    fig.add_trace(go.Scatter(x=[0, 48], y=[FOG_VIS_KM, FOG_VIS_KM], mode="lines",
                             xaxis=xa, yaxis=ya, showlegend=False, hoverinfo="skip",
                             line=dict(color=GREY, width=3, dash="11px,5px")))

# fog flag bands
shapes = []
SPLIT = 0.515
for _, ya, _r in AX:
    for a, b in FOG_UPPER:
        shapes.append(dict(type="rect", xref="x5", yref=f"{ya} domain", x0=a, x1=b,
                           y0=SPLIT, y1=1, fillcolor="#dcdcdc", line=dict(width=0),
                           layer="below"))
    for a, b in FOG_LOWER:
        shapes.append(dict(type="rect", xref="x5", yref=f"{ya} domain", x0=a, x1=b,
                           y0=0, y1=SPLIT, fillcolor="#c0c0c0", line=dict(width=0),
                           layer="below"))

# axes
TICKFONT = dict(family=FONT, size=16, color="black")
GRID = dict(showgrid=True, gridcolor="black", gridwidth=0.7, griddash="4px,2px")
common_x = dict(range=[0, 48], tickmode="array", tickvals=LABEL_HOURS, ticktext=LABEL_TEXT,
                ticks="outside", ticklen=6, tickwidth=1.2, tickcolor="black",
                showline=True, linecolor="black", linewidth=1.3, mirror=True,
                zeroline=False, tickfont=TICKFONT, automargin=False,
                domain=[px_x(X_LEFT), px_x(X_RIGHT)],
                minor=dict(tickmode="array", tickvals=MINOR_HOURS, ticks="outside",
                           ticklen=6, tickwidth=1.2, tickcolor="black", **GRID),
                **GRID)

Y_LEFT = [
    dict(range=[311, 401.5], tickvals=[325, 350, 375, 400]),
    dict(range=[4.2, 20.8], tickvals=[10, 20]),
    dict(range=[0, 21], tickvals=[0, 5, 10, 15, 20]),
    dict(range=[7.0, 21.0], tickvals=[10, 15, 20]),
    dict(range=[6.0, 21.0], tickvals=[10, 15, 20]),
]
Y_RIGHT = {1: [-1.84, 1.61], 3: [-2.06, 1.70], 4: [-1.64, 1.64]}

VIS_TICKS = [0.1, 1, 10]
VIS_TEXT = ["10<sup>\u22121</sup>", "10<sup>0</sup>", "10<sup>1</sup>"]
minor_vals = [m * 10.0 ** e for e in (-3, -2, -1, 0, 1) for m in range(2, 10)]

layout = {}
for i, (xa, ya, yr) in enumerate(AX):
    top, bottom = PANELS[i]
    dom = [px_y(bottom), px_y(top)]
    xkey = "xaxis" if xa == "x" else "xaxis" + xa[1:]
    xd = dict(common_x, anchor=ya, showticklabels=(i == 4))
    if i != 4:
        xd["matches"] = "x5"
    layout[xkey] = xd
    ykey = "yaxis" if ya == "y" else "yaxis" + ya[1:]
    layout[ykey] = dict(Y_LEFT[i], domain=dom, anchor=xa, ticks="outside", ticklen=6,
                        tickwidth=1.2, tickcolor="black", showline=True,
                        linecolor="black", linewidth=1.3, mirror=(yr is None),
                        zeroline=False, tickfont=TICKFONT, automargin=False,
                        tickmode="array", **GRID)
    if yr is not None:
        layout["yaxis" + yr[1:]] = dict(type="log", range=Y_RIGHT[i], overlaying=ya,
                                        side="right", anchor=xa, tickmode="array",
                                        tickvals=VIS_TICKS, ticktext=VIS_TEXT,
                                        ticks="outside", ticklen=6, tickwidth=1.2,
                                        tickcolor="black", showline=True,
                                        linecolor="black", linewidth=1.3,
                                        showgrid=False, zeroline=False,
                                        tickfont=TICKFONT, automargin=False,
                                        minor=dict(tickvals=minor_vals, ticks="outside",
                                                   ticklen=3, tickcolor="black",
                                                   tickwidth=1, showgrid=False))

# legends
LEG_STYLE = dict(bgcolor="rgba(255,255,255,0.8)", bordercolor="#cccccc", borderwidth=1,
                 font=dict(family=FONT, size=14, color="#222222"), xref="paper",
                 yref="paper", tracegroupgap=0, itemwidth=30)
layout["legend"] = dict(LEG_STYLE, x=px_x(137), y=px_y(25), xanchor="left", yanchor="top")
layout["legend2"] = dict(LEG_STYLE, x=px_x(137), y=px_y(255), xanchor="left", yanchor="bottom")
layout["legend3"] = dict(LEG_STYLE, x=px_x(946), y=px_y(163), xanchor="right", yanchor="top")
layout["legend4"] = dict(LEG_STYLE, x=px_x(137), y=px_y(386), xanchor="left", yanchor="bottom")
layout["legend5"] = dict(LEG_STYLE, x=px_x(137), y=px_y(516), xanchor="left", yanchor="bottom")
layout["legend6"] = dict(LEG_STYLE, x=px_x(946), y=px_y(427), xanchor="right", yanchor="top")
layout["legend7"] = dict(LEG_STYLE, x=px_x(137), y=px_y(647), xanchor="left", yanchor="bottom")
layout["legend8"] = dict(LEG_STYLE, x=px_x(946), y=px_y(557), xanchor="right", yanchor="top")

# panel letters and axis titles
ann = []
TITLE_FONT = dict(family=FONT, size=20, color="black")
for i, letter in enumerate("abcde"):
    top, bottom = PANELS[i]
    ann.append(dict(text=f"<b>({letter})</b>", x=px_x(28), y=px_y(top - 2),
                    font=dict(family=FONT, size=19, color="black")))
    mid = (top + bottom) / 2
    if i == 0:
        ann.append(dict(text="L\u2193", x=px_x(32), y=px_y(mid + 21), textangle=-90))
        ann.append(dict(text="(Wm<sup>\u22122</sup>)", x=px_x(57), y=px_y(mid + 2), textangle=-90))
    else:
        ann.append(dict(text="T", x=px_x(38), y=px_y(mid + 12), textangle=-90))
        ann.append(dict(text="(\u00b0 C)", x=px_x(64), y=px_y(mid - 2), textangle=-90))
    if AX[i][2] is not None:
        ann.append(dict(text="Visibility", x=px_x(1058), y=px_y(mid), textangle=-90))
        ann.append(dict(text="(km)", x=px_x(1084), y=px_y(mid + 17), textangle=-90))
for a in ann:
    a.setdefault("xref", "paper")
    a.setdefault("yref", "paper")
    a.setdefault("showarrow", False)
    a.setdefault("xanchor", "center")
    a.setdefault("yanchor", "middle")
    a.setdefault("font", TITLE_FONT)

fig.update_layout(width=W, height=H, margin=dict(l=0, r=0, t=0, b=0), autosize=False,
                  paper_bgcolor="white", plot_bgcolor="white", shapes=shapes,
                  annotations=ann, font=dict(family=FONT, size=16, color="black"),
                  **layout)

fig.write_html("out.html")
